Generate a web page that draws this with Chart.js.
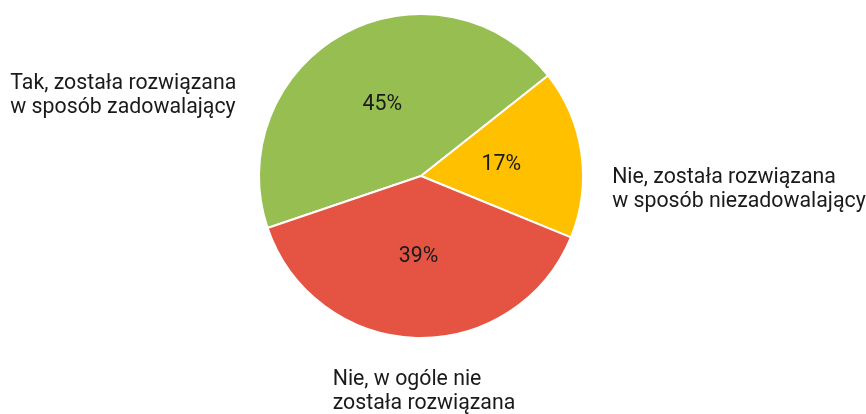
<!DOCTYPE html>
<html>
<head>
<meta charset="utf-8">
<script src="https://cdn.jsdelivr.net/npm/chart.js@4/dist/chart.umd.min.js"></script>
<style>
  html, body { margin: 0; padding: 0; background: #fff; }
  canvas { display: block; }
</style>
</head>
<body>
<canvas id="chart" width="866" height="414"></canvas>
<script>
// categories and values (percent)
const categories = [
  ["Tak, została rozwiązana", "w sposób zadowalający"],
  ["Nie, została rozwiązana", "w sposób niezadowalający"],
  ["Nie, w ogóle nie", "została rozwiązana"],
];
const values = [45, 17, 39];
const colors = ["#96be51", "#ffc000", "#e55443"];

// where each outside label sits, relative to the pie centre, in radii
const labelOffsets = [
  { dx: -2.535, dy: -0.535 },
  { dx: 1.18, dy: 0.045 },
  { dx: -0.545, dy: 1.29 },
];

const FONT = "Roboto, 'Noto Sans', sans-serif";

const labelsPlugin = {
  id: "pieLabels",
  afterDatasetsDraw(chart) {
    const ctx = chart.ctx;
    const meta = chart.getDatasetMeta(0);
    ctx.save();
    ctx.fillStyle = "#1a1a1a";
    ctx.font = "21.3px " + FONT;

    meta.data.forEach((arc, i) => {
      // percentage inside the slice
      const p = arc.tooltipPosition();
      ctx.textAlign = "center";
      ctx.textBaseline = "middle";
      ctx.fillText(values[i] + "%", p.x, p.y);

      // category outside the pie
      const off = labelOffsets[i];
      const x = arc.x + off.dx * arc.outerRadius;
      const y = arc.y + off.dy * arc.outerRadius;
      ctx.textAlign = "left";
      ctx.textBaseline = "alphabetic";
      categories[i].forEach((line, j) => {
        ctx.fillText(line, x, y + j * 24);
      });
    });
    ctx.restore();
  },
};

new Chart(document.getElementById("chart"), {
  type: "pie",
  data: {
    labels: categories.map((c) => c.join(" ")),
    datasets: [
      {
        data: values,
        backgroundColor: colors,
        borderColor: "#fff",
        borderWidth: 2,
      },
    ],
  },
  options: {
    responsive: false,
    animation: false,
    rotation: 251.3,
    layout: { padding: { top: 13, bottom: 75, left: 0, right: 24 } },
    plugins: {
      legend: { display: false },
      tooltip: { enabled: false },
    },
  },
  plugins: [labelsPlugin],
});
</script>
</body>
</html>
